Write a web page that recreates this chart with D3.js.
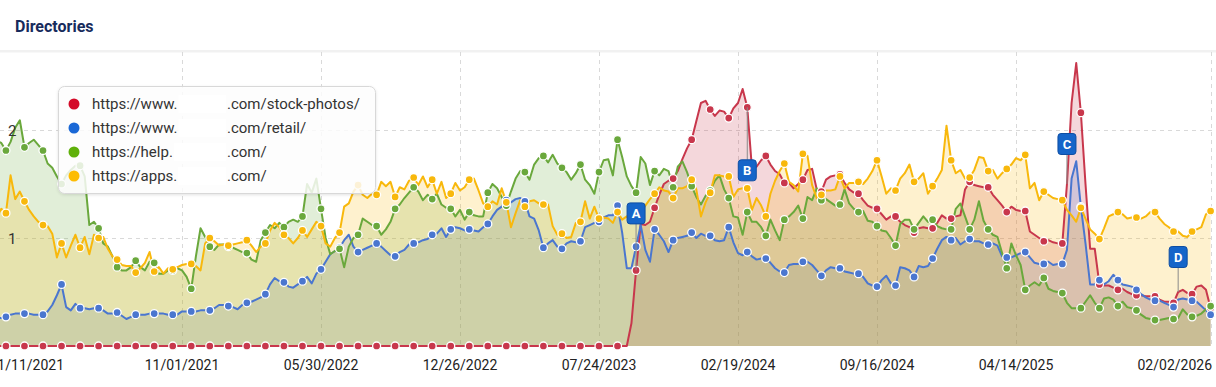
<!DOCTYPE html>
<html><head><meta charset="utf-8">
<script src="https://cdn.jsdelivr.net/npm/d3@7"></script>
<style>
html,body{margin:0;padding:0;background:#fff;overflow:hidden;}
svg{display:block;font-family:Roboto,"Liberation Sans",Arial,sans-serif;}
</style></head><body>
<svg id="chart" width="1216" height="387"></svg>
<script>
// ---------- DATA ----------
const chartTitle = "Directories";
const startDate = "2021-01-11";      // first weekly data point
const weekCount = 265;               // weekly points up to 02/02/2026
const tickLabels = ["01/11/2021","11/01/2021","05/30/2022","12/26/2022","07/24/2023","02/19/2024","09/16/2024","04/14/2025","02/02/2026"];
const yTickValues = [1, 2];
const legendPrefix = ["https://www.","https://www.","https://help.","https://apps."];
const legendSuffix = [".com/stock-photos/",".com/retail/",".com/",".com/"];
const flagLabels = ["A","B","C","D"];
const flagWeekIndex = [140, 164, 233, 257];

const stockPhotos = [
0,0,0,0,0,0,0,0,0,0, 0,0,0,0,0,0,0,0,0,0, 0,0,0,0,0,0,0,0,0,0, 0,0,0,0,0,0,0,0,0,0,
0,0,0,0,0,0,0,0,0,0, 0,0,0,0,0,0,0,0,0,0, 0,0,0,0,0,0,0,0,0,0, 0,0,0,0,0,0,0,0,0,0,
0,0,0,0,0,0,0,0,0,0, 0,0,0,0,0,0,0,0,0,0, 0,0,0,0,0,0,0,0,0,0, 0,0,0,0,0,0,0,0,0,0,
0,0,0,0,0,0,0,0,0,0, 0,0,0,0,0,0,0,0,0,0.21,
0.70,1.13,1.12,1.15,1.28,1.40,1.50,1.53,1.55,1.62,
1.73,1.83,1.91,2.08,2.25,2.27,2.19,2.13,2.18,2.17,
2.11,2.20,2.25,2.38,2.21,1.65,1.66,1.72,1.76,1.68,
1.62,1.59,1.51,1.51,1.46,1.50,1.54,1.63,1.64,1.45,
1.43,1.54,1.57,1.58,1.59,1.51,1.45,1.42,1.41,1.35,
1.30,1.28,1.27,1.22,1.17,1.20,1.20,1.15,1.12,1.10,
1.05,1.09,1.10,1.09,1.09,1.14,1.21,1.18,1.18,1.20,
1.21,1.45,1.52,1.49,1.48,1.47,1.47,1.40,1.35,1.30,
1.24,1.29,1.26,1.25,1.25,1.06,1.03,1.00,0.97,0.98,
0.96,0.95,0.95,1.50,2.25,2.62,2.16,1.50,0.90,0.90,
0.57,0.56,0.56,0.54,0.52,0.53,0.50,0.48,0.47,0.47,
0.46,0.46,0.46,0.43,0.41,0.41,0.40,0.50,0.52,0.49,
0.48,0.55,0.56,0.52,0.35];

const retail = [
0.28,0.27,0.26,0.26,0.27,0.29,0.30,0.30,0.30,0.30,
0.29,0.29,0.29,0.32,0.38,0.47,0.57,0.36,0.33,0.39,
0.35,0.35,0.34,0.35,0.35,0.33,0.30,0.30,0.31,0.28,
0.25,0.27,0.29,0.29,0.29,0.30,0.30,0.30,0.30,0.29,
0.29,0.29,0.32,0.32,0.32,0.32,0.33,0.33,0.33,0.35,
0.38,0.38,0.37,0.36,0.34,0.38,0.40,0.41,0.43,0.45,
0.48,0.57,0.63,0.60,0.59,0.55,0.54,0.57,0.60,0.64,
0.58,0.67,0.71,0.78,0.85,0.88,0.91,0.98,1.03,0.92,
0.87,0.89,0.91,0.93,0.95,0.92,0.88,0.84,0.83,0.87,
0.89,0.94,0.95,0.96,0.98,0.99,1.03,1.04,1.09,1.01,
1.08,1.10,1.09,1.07,1.08,1.07,1.06,1.10,1.13,1.20,
1.26,1.29,1.35,1.33,1.36,1.37,1.34,1.20,1.18,1.07,
0.91,0.95,0.98,0.92,0.90,0.95,0.97,0.96,0.97,1.10,
1.12,1.14,1.15,1.19,1.21,1.21,1.30,1.05,0.72,0.72,
0.92,1.12,0.89,0.78,1.08,1.03,0.97,0.87,0.98,1.00,
1.01,1.02,1.05,1.00,1.04,1.02,1.02,0.98,0.97,0.98,
1.10,0.96,0.86,0.84,0.87,0.83,0.80,0.81,0.81,0.77,
0.72,0.69,0.68,0.75,0.76,0.76,0.78,0.78,0.75,0.70,
0.65,0.70,0.73,0.72,0.72,0.69,0.68,0.67,0.67,0.64,
0.58,0.56,0.55,0.61,0.65,0.58,0.56,0.73,0.72,0.70,
0.64,0.74,0.73,0.74,0.81,0.90,0.98,1.01,0.98,1.00,
0.94,0.97,0.99,0.97,0.97,0.95,0.94,0.95,0.93,0.83,
0.82,0.82,0.84,0.86,0.87,0.82,0.77,0.76,0.76,0.78,
0.75,0.76,0.76,0.89,1.55,1.71,1.29,0.95,0.57,0.57,
0.61,0.57,0.60,0.66,0.61,0.57,0.56,0.55,0.52,0.48,
0.45,0.43,0.42,0.42,0.40,0.38,0.36,0.43,0.44,0.43,
0.42,0.41,0.37,0.33,0.29];

const help = [
1.88,1.85,1.90,1.88,1.81,1.89,2.02,2.09,1.84,1.88,
1.91,1.86,1.81,1.69,1.65,1.57,1.50,1.58,1.63,1.67,
1.67,1.57,1.12,1.15,1.09,0.95,0.92,0.83,0.73,0.70,
0.70,0.73,0.79,0.73,0.70,0.78,0.77,0.67,0.67,0.70,
0.70,0.72,0.70,0.64,0.53,0.83,1.09,1.01,0.92,0.89,
0.94,0.94,0.92,0.91,0.89,0.87,0.86,0.80,0.78,0.98,
1.05,1.12,1.09,1.14,1.10,1.15,1.17,1.15,1.20,1.50,
1.42,1.55,1.27,1.00,0.85,0.88,0.90,0.73,0.92,1.00,
1.03,1.18,1.15,1.12,1.11,1.03,1.08,1.15,1.27,1.31,
1.37,1.42,1.47,1.43,1.35,1.40,1.36,1.41,1.31,1.28,
1.27,1.20,1.26,1.17,1.24,1.21,1.20,1.20,1.42,1.50,
1.46,1.38,1.30,1.43,1.55,1.62,1.61,1.54,1.68,1.74,
1.76,1.70,1.77,1.69,1.65,1.61,1.54,1.60,1.68,1.54,
1.49,1.41,1.61,1.72,1.73,1.58,1.91,1.75,1.57,1.48,
1.42,1.75,1.69,1.49,1.62,1.58,1.64,1.62,1.47,1.66,
1.71,1.61,1.48,1.38,1.31,1.39,1.44,1.53,1.58,1.45,
1.37,1.20,1.19,1.03,1.24,1.15,1.15,1.10,1.02,1.17,
1.07,0.98,1.17,1.20,1.24,1.30,1.18,1.38,1.35,1.46,
1.35,1.36,1.33,1.30,1.31,1.45,1.32,1.27,1.24,1.25,
1.16,1.15,1.11,1.07,1.06,1.00,0.93,1.13,1.17,1.17,
1.08,1.14,1.20,1.15,1.17,1.11,1.09,1.08,1.08,1.27,
1.32,1.20,1.08,1.17,1.34,1.16,1.08,1.03,1.01,0.86,
0.72,0.95,0.84,0.75,0.52,0.56,0.59,0.56,0.63,0.53,
0.51,0.50,0.49,0.40,0.35,0.35,0.35,0.41,0.47,0.40,
0.35,0.44,0.45,0.43,0.37,0.41,0.36,0.35,0.33,0.29,
0.26,0.25,0.24,0.24,0.25,0.26,0.25,0.26,0.34,0.29,
0.27,0.28,0.30,0.34,0.37];

const apps = [
1.25,1.30,1.20,1.27,1.23,1.58,1.36,1.43,1.34,1.26,
1.20,1.15,1.12,1.11,1.04,0.82,0.95,0.82,0.93,1.03,
0.91,1.01,0.85,1.03,1.00,1.01,0.90,0.83,0.80,0.75,
0.74,0.74,0.68,0.72,0.77,0.87,0.69,0.73,0.67,0.72,
0.71,0.73,0.75,0.76,0.76,0.74,0.70,0.95,1.00,0.97,
0.93,0.94,0.93,0.94,0.95,0.96,0.98,0.93,0.87,0.92,
0.95,1.07,1.14,1.10,1.03,1.00,0.95,1.00,1.07,1.01,
1.08,1.15,1.11,0.95,0.92,1.00,1.05,1.29,1.32,1.43,
1.49,1.40,1.37,1.41,1.40,1.52,1.48,1.52,1.38,1.47,
1.45,1.53,1.56,1.49,1.57,1.47,1.54,1.41,1.52,1.37,
1.41,1.51,1.44,1.47,1.54,1.55,1.44,1.32,1.29,1.34,
1.31,1.46,1.33,1.10,1.23,1.35,1.29,1.34,1.35,1.32,
1.31,1.31,1.11,1.03,1.04,1.00,1.01,1.14,1.15,1.34,
1.18,1.29,1.18,1.19,1.18,1.14,1.24,1.17,1.20,1.15,
1.20,1.24,1.30,1.36,1.41,1.47,1.44,1.43,1.37,1.46,
1.46,1.48,1.54,1.45,1.20,1.33,1.42,1.58,1.58,1.57,
1.57,1.38,1.45,1.46,1.46,1.26,1.37,1.30,1.20,1.41,
1.53,1.62,1.69,1.52,1.49,1.43,1.78,1.76,1.49,1.37,
1.40,1.44,1.44,1.45,1.57,1.46,1.51,1.51,1.52,1.50,
1.55,1.62,1.72,1.57,1.41,1.46,1.44,1.55,1.60,1.68,
1.52,1.55,1.60,1.41,1.48,1.55,1.63,2.04,1.72,1.60,
1.63,1.55,1.56,1.63,1.75,1.74,1.62,1.63,1.55,1.60,
1.64,1.68,1.74,1.72,1.77,1.46,1.51,1.35,1.43,1.40,
1.37,1.36,1.35,1.26,1.21,1.15,1.28,1.18,1.08,1.04,
0.99,1.09,1.20,1.22,1.24,1.22,1.18,1.19,1.19,1.18,
1.20,1.24,1.24,1.18,1.13,1.10,1.06,1.06,1.02,1.01,
1.06,1.08,1.10,1.22,1.25];

// ---------- STYLE / LAYOUT ----------
const lineColors   = ["#c8374c","#4a76cf","#6aa83c","#f8b80c"];
const legendColors = ["#d40a28","#1a68d6","#5fb00a","#fdbc02"];
const layout = {
  plotTop: 52, plotBottom: 346, xStart: -12.6, xEnd: 1210.6, width: 1216,
  flagDy: [-57, 63, -40, -35]
};

const seriesValues = [stockPhotos, retail, help, apps];
["stockPhotos","retail","help","apps"].forEach((n,i)=>{
  if (seriesValues[i].length !== weekCount) throw new Error(n+" has "+seriesValues[i].length+" values");
});

const parseISO = d3.utcParse("%Y-%m-%d");
const parseTick = d3.utcParse("%m/%d/%Y");
const dates = d3.range(weekCount).map(i => d3.utcDay.offset(parseISO(startDate), 7*i));
const tickDates = tickLabels.map(parseTick);

const x = d3.scaleUtc().domain([dates[0], dates[weekCount-1]]).range([layout.xStart, layout.xEnd]);
const y = d3.scaleLinear().domain([0, 2]).range([layout.plotBottom, 130]);

const svg = d3.select("#chart");

// header
svg.append("text").attr("x", 15).attr("y", 32)
  .attr("font-size", 16).attr("font-weight", 700).attr("fill", "#172b5c")
  .text(chartTitle);
svg.append("rect").attr("x", 0).attr("y", 50).attr("width", layout.width).attr("height", 2.5).attr("fill", "#f1f1f1");

// gridlines
const grid = svg.append("g").attr("stroke", "#d9d9d9").attr("stroke-width", 1).attr("stroke-dasharray", "4,4");
yTickValues.forEach(v => {
  grid.append("line").attr("x1", 0).attr("x2", layout.width)
    .attr("y1", Math.round(y(v)) + 0.5).attr("y2", Math.round(y(v)) + 0.5);
});
tickDates.slice(1).forEach(d => {
  const xx = Math.round(x(d)) + 0.5;
  grid.append("line").attr("x1", xx).attr("x2", xx).attr("y1", layout.plotTop).attr("y2", layout.plotBottom);
});

// series
const series = seriesValues.map((vals, i) => ({
  color: lineColors[i],
  points: vals.map((v, k) => ({date: dates[k], v, k}))
}));

const area = d3.area().x(d => x(d.date)).y0(y(0)).y1(d => y(d.v));
const line = d3.line().x(d => x(d.date)).y(d => y(d.v));

const areaG = svg.append("g");
series.forEach(s => {
  areaG.append("path").datum(s.points).attr("d", area)
    .attr("fill", s.color).attr("fill-opacity", 0.2);
});
const lineG = svg.append("g");
series.forEach(s => {
  lineG.append("path").datum(s.points).attr("d", line)
    .attr("fill", "none").attr("stroke", s.color).attr("stroke-width", 2)
    .attr("stroke-linejoin", "round");
});
const markG = svg.append("g");
series.forEach(s => {
  markG.selectAll(null).data(s.points.filter(p => p.k % 4 === 0)).enter()
    .append("circle").attr("cx", d => x(d.date)).attr("cy", d => y(d.v)).attr("r", 4)
    .attr("fill", s.color).attr("stroke", "#fff").attr("stroke-width", 1.3);
});

// y labels
svg.append("g").selectAll("text").data(yTickValues).enter().append("text")
  .attr("x", 8).attr("y", d => y(d) + 5.5).attr("font-size", 15).attr("fill", "#333")
  .text(d => d);

// x labels
const xl = svg.append("g").attr("font-size", 14).attr("fill", "#222");
tickDates.forEach((d, i) => {
  const t = xl.append("text").attr("y", 370).text(tickLabels[i]);
  if (i === 0) t.attr("x", 64).attr("text-anchor", "end");
  else if (i === tickDates.length - 1) t.attr("x", 1212).attr("text-anchor", "end");
  else t.attr("x", x(d)).attr("text-anchor", "middle");
});

// flags (on the stock-photos series)
const flagG = svg.append("g");
flagLabels.forEach((lab, i) => {
  const k = flagWeekIndex[i];
  const px = x(dates[k]), py = y(stockPhotos[k]);
  const cy = py + layout.flagDy[i];
  const bw = 18, bh = 21;
  const edge = layout.flagDy[i] < 0 ? cy + bh/2 : cy - bh/2;
  flagG.append("line").attr("x1", px).attr("x2", px).attr("y1", edge).attr("y2", py)
    .attr("stroke", "#8a8a8a").attr("stroke-width", 1);
  flagG.append("rect").attr("x", px - bw/2).attr("y", cy - bh/2).attr("width", bw).attr("height", bh)
    .attr("rx", 3).attr("fill", "#1565c9").attr("stroke", "#0e4ea3").attr("stroke-width", 1);
  flagG.append("text").attr("x", px).attr("y", cy + 4.5).attr("text-anchor", "middle")
    .attr("font-size", 13).attr("font-weight", 700).attr("fill", "#fff").text(lab);
});

// legend
const defs = svg.append("defs");
const f = defs.append("filter").attr("id", "sh").attr("x", "-10%").attr("y", "-10%").attr("width", "120%").attr("height", "130%");
f.append("feDropShadow").attr("dx", 0).attr("dy", 1).attr("stdDeviation", 1.5).attr("flood-color", "#000").attr("flood-opacity", 0.12);
const lg = svg.append("g");
lg.append("rect").attr("x", 58.5).attr("y", 86.5).attr("width", 317).attr("height", 107).attr("rx", 6)
  .attr("fill", "rgba(255,255,255,0.82)").attr("stroke", "#d8d8d8").attr("filter", "url(#sh)");
legendPrefix.forEach((p, i) => {
  const cy = 104 + i * 24;
  lg.append("circle").attr("cx", 74).attr("cy", cy).attr("r", 5.5).attr("fill", legendColors[i]);
  const t = lg.append("text").attr("x", 92).attr("y", cy + 5.2).attr("font-size", 15).attr("fill", "#333").text(p);
  const w = t.node().getComputedTextLength();
  lg.append("rect").attr("x", 92 + w + 1).attr("y", cy - 9).attr("width", 226 - (92 + w + 1)).attr("height", 18).attr("fill", "#fff");
  lg.append("text").attr("x", 227).attr("y", cy + 5.2).attr("font-size", 15).attr("fill", "#333").text(legendSuffix[i]);
});
</script>
</body></html>
